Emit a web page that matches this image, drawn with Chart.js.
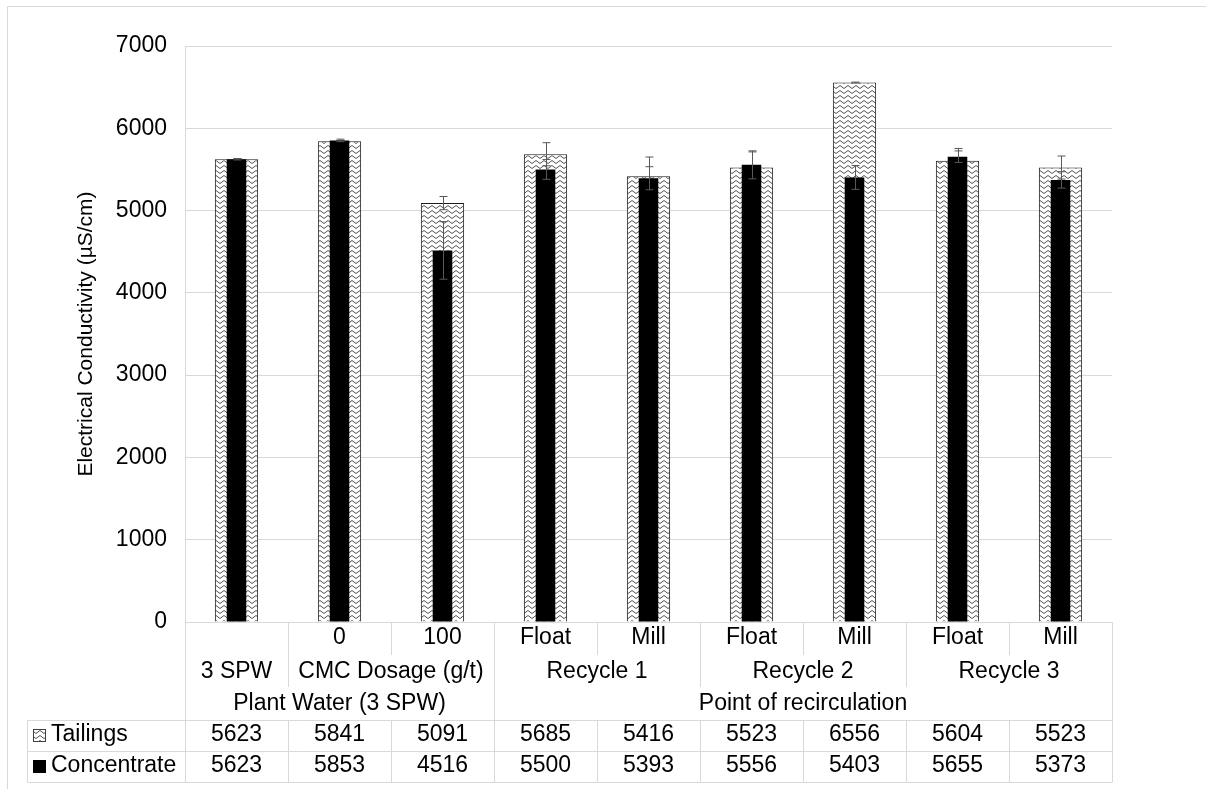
<!DOCTYPE html>
<html><head><meta charset="utf-8">
<script src="https://cdn.jsdelivr.net/npm/chart.js@4.4.0/dist/chart.umd.min.js"></script>
<style>html,body{margin:0;padding:0;background:#fff;} #c{display:block;}</style>
</head><body>
<canvas id="c" width="1206" height="789"></canvas>
<script>
// ---- data ----
const categories = ['', '0', '100', 'Float', 'Mill', 'Float', 'Mill', 'Float', 'Mill'];
const level2Labels = ['3 SPW', 'CMC Dosage (g/t)', 'Recycle 1', 'Recycle 2', 'Recycle 3'];
const level2Spans = [1, 2, 2, 2, 2];
const level3Labels = ['Plant Water (3 SPW)', 'Point of recirculation'];
const level3Spans = [3, 6];
const seriesNames = ['Tailings', 'Concentrate'];
const tailings = [5623, 5841, 5091, 5685, 5416, 5523, 6556, 5604, 5523];
const concentrate = [5623, 5853, 4516, 5500, 5393, 5556, 5403, 5655, 5373];
const tailingsErr = [8, 8, 80, 140, 235, 190, 5, 150, 140];
const concentrateErr = [8, 15, 350, 120, 140, 170, 145, 70, 100];
const yMin = 0, yMax = 7000, yStep = 1000;

const FONT = '"Liberation Sans", Arial, sans-serif';
const FS = 23;
const GRID = '#d9d9d9';

const canvas = document.getElementById('c');
const ctx0 = canvas.getContext('2d');
function makePattern() {
  const t = document.createElement('canvas');
  t.width = 8; t.height = 5;
  const g = t.getContext('2d');
  g.fillStyle = '#fff'; g.fillRect(0, 0, 8, 5);
  g.strokeStyle = '#505050'; g.lineWidth = 1;
  g.beginPath(); g.moveTo(0, 0.5); g.lineTo(4, 3.5); g.lineTo(8, 0.5); g.stroke();
  return ctx0.createPattern(t, 'repeat');
}
const zig = makePattern();

const errorBars = {
  id: 'errorBars',
  afterDatasetDraw(chart, args) {
    const errs = args.index === 0 ? tailingsErr : concentrateErr;
    const vals = args.index === 0 ? tailings : concentrate;
    const y = chart.scales.y;
    const c = chart.ctx;
    c.save();
    c.strokeStyle = '#595959'; c.lineWidth = 1;
    args.meta.data.forEach((bar, i) => {
      const x = Math.round(bar.x) + 0.5;
      const yt = y.getPixelForValue(vals[i] + errs[i]);
      const yb = y.getPixelForValue(vals[i] - errs[i]);
      c.beginPath();
      c.moveTo(x, yt); c.lineTo(x, yb);
      c.moveTo(x - 4, yt); c.lineTo(x + 4, yt);
      c.moveTo(x - 4, yb); c.lineTo(x + 4, yb);
      c.stroke();
    });
    c.restore();
  }
};

const dataTable = {
  id: 'dataTable',
  afterDraw(chart) {
    const c = chart.ctx;
    const xs = chart.scales.x;
    const n = categories.length;
    const left = xs.left, right = xs.right;
    const w = (right - left) / n;
    const b = i => Math.round(left + w * i) + 0.5;
    const top = chart.chartArea.bottom;
    const r1 = top + 33, r2 = top + 65, r3 = top + 98, r4 = top + 129, r5 = top + 160;
    const legLeft = 27.5;
    c.save();
    // outer chart border
    c.strokeStyle = GRID; c.lineWidth = 1;
    c.beginPath(); c.moveTo(7.5, 900); c.lineTo(7.5, 6.5); c.lineTo(1300, 6.5); c.stroke();
    c.beginPath();
    // horizontal lines
    c.moveTo(legLeft, Math.round(r3) + 0.5); c.lineTo(b(n), Math.round(r3) + 0.5);
    c.moveTo(legLeft, Math.round(r4) + 0.5); c.lineTo(b(n), Math.round(r4) + 0.5);
    c.moveTo(legLeft, Math.round(r5) + 0.5); c.lineTo(b(n), Math.round(r5) + 0.5);
    c.moveTo(legLeft, Math.round(r3) + 0.5); c.lineTo(legLeft, Math.round(r5) + 0.5);
    // vertical lines
    const g2 = [], g3 = [];
    let acc = 0; level2Spans.forEach(s => { acc += s; g2.push(acc); });
    acc = 0; level3Spans.forEach(s => { acc += s; g3.push(acc); });
    for (let i = 0; i <= n; i++) {
      let yEnd = r1;
      if (i === 0 || g3.includes(i)) yEnd = r3;
      else if (g2.includes(i)) yEnd = r2;
      c.moveTo(b(i), top); c.lineTo(b(i), yEnd);
      c.moveTo(b(i), r3); c.lineTo(b(i), r5);
    }
    c.stroke();
    // text
    c.fillStyle = '#000';
    c.font = FS + 'px ' + FONT;
    c.textAlign = 'center'; c.textBaseline = 'middle';
    categories.forEach((t, i) => c.fillText(t, xs.getPixelForValue(i), top + 16));
    let start = 0;
    level2Labels.forEach((t, k) => {
      const s = level2Spans[k];
      c.fillText(t, left + w * (start + s / 2), top + 49.5);
      start += s;
    });
    start = 0;
    level3Labels.forEach((t, k) => {
      const s = level3Spans[k];
      c.fillText(t, left + w * (start + s / 2), top + 81.5);
      start += s;
    });
    tailings.forEach((v, i) => c.fillText(String(v), xs.getPixelForValue(i), top + 113));
    concentrate.forEach((v, i) => c.fillText(String(v), xs.getPixelForValue(i), top + 144));
    // legend keys
    c.textAlign = 'left';
    c.fillText(seriesNames[0], 51, top + 113);
    c.fillText(seriesNames[1], 51, top + 144);
    c.fillStyle = zig; c.fillRect(33, top + 107, 13, 13);
    c.strokeStyle = '#404040'; c.strokeRect(33.5, top + 107.5, 12, 12);
    c.fillStyle = '#000'; c.fillRect(33, top + 138, 13, 13);
    c.restore();
  }
};

new Chart(canvas, {
  type: 'bar',
  data: {
    labels: categories,
    datasets: [
      { label: seriesNames[0], data: tailings, backgroundColor: zig, borderColor: '#1a1a1a', borderWidth: 1,
        barPercentage: 0.42, categoryPercentage: 1, grouped: false, order: 1 },
      { label: seriesNames[1], data: concentrate, backgroundColor: '#000', borderWidth: 0,
        barPercentage: 0.19, categoryPercentage: 1, grouped: false, order: 0 }
    ]
  },
  options: {
    responsive: false,
    animation: false,
    layout: { padding: { top: 46, bottom: 167, right: 94, left: 0 } },
    plugins: { legend: { display: false }, tooltip: { enabled: false } },
    scales: {
      x: { display: false },
      y: {
        min: yMin, max: yMax,
        ticks: { stepSize: yStep, color: '#000', font: { family: FONT, size: FS }, padding: 18,
                 callback: v => String(v) },
        grid: { color: GRID, drawTicks: false },
        border: { display: true, color: GRID },
        title: { display: true, text: 'Electrical Conductivity (µS/cm)', color: '#000',
                 font: { family: FONT, size: 21 }, padding: { top: 74, bottom: 0 } },
        afterFit(scale) { scale.width = 185; }
      }
    }
  },
  plugins: [errorBars, dataTable]
});
</script>
</body></html>
